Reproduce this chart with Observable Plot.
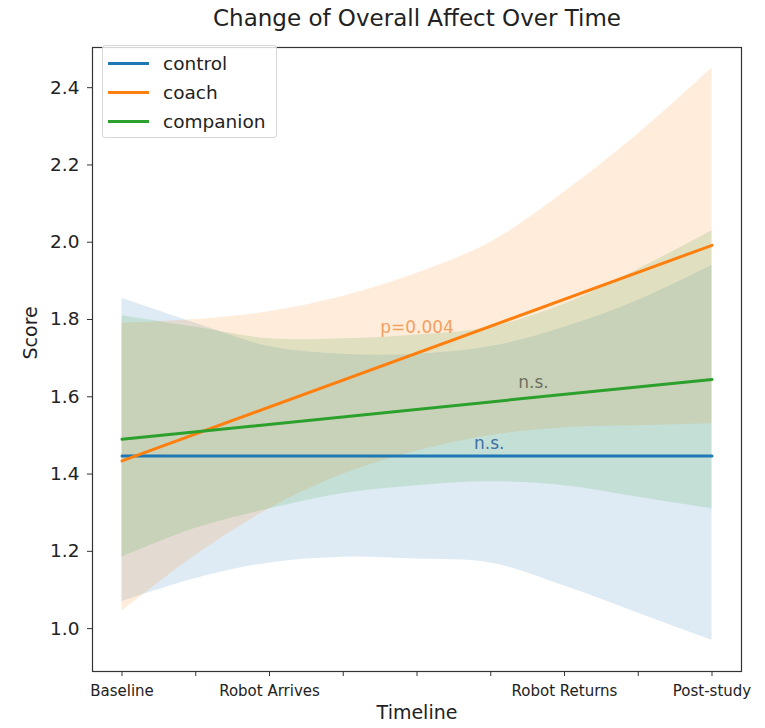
<!DOCTYPE html>
<html>
<head>
<meta charset="utf-8">
<script src="https://cdn.jsdelivr.net/npm/d3@7"></script>
<script src="https://cdn.jsdelivr.net/npm/@observablehq/plot@0.6"></script>
<style>
  html, body { margin: 0; padding: 0; background: #fff; }
  #wrap { position: relative; width: 765px; height: 728px; font-family: "DejaVu Sans", sans-serif; color: #222; }
  #legend { position: absolute; left: 102px; top: 45px; width: 175px; height: 93px;
    background: rgba(255,255,255,0.8); border: 1px solid #d6d6d6; border-radius: 3px; box-sizing: border-box; }
  .row { position: absolute; left: 0; height: 29px; display: flex; align-items: center; font-size: 18.5px; color: #222; }
  .sw { width: 41px; height: 3px; margin-left: 5px; margin-right: 14px; }
</style>
</head>
<body>
<div id="wrap"><div id="chart"></div><div id="legend"></div></div>
<script>
// ---- data ----
const groups = ["control", "coach", "companion"];
const colors = ["#1f77b4", "#ff7f0e", "#2ca02c"];

const timeline = [0, 1, 2, 3, 4, 5, 6, 7, 8];
const xTickLabels = ["Baseline", "", "Robot Arrives", "", "", "", "Robot Returns", "", "Post-study"];
const yTicks = [1.0, 1.2, 1.4, 1.6, 1.8, 2.0, 2.2, 2.4];

// regression lines (straight, from first to last time point)
const lineX = [0, 8];
const controlMean = [1.447, 1.447];
const coachMean = [1.434, 1.992];
const companionMean = [1.490, 1.645];

// confidence bands
const controlUpper = [1.855, 1.79, 1.73, 1.71, 1.71, 1.73, 1.78, 1.85, 1.94];
const controlLower = [1.07, 1.13, 1.17, 1.185, 1.18, 1.17, 1.11, 1.04, 0.97];
const coachUpper = [1.79, 1.80, 1.82, 1.86, 1.92, 2.00, 2.13, 2.28, 2.45];
const coachLower = [1.045, 1.19, 1.31, 1.40, 1.46, 1.50, 1.52, 1.525, 1.53];
const companionUpper = [1.81, 1.78, 1.75, 1.75, 1.76, 1.78, 1.84, 1.93, 2.03];
const companionLower = [1.185, 1.26, 1.31, 1.35, 1.37, 1.38, 1.37, 1.34, 1.31];

// annotations
const annText = ["p=0.004", "n.s.", "n.s."];
const annX = [4.0, 5.58, 4.98];
const annY = [1.78, 1.637, 1.479];
const annColor = ["#f2a060", "#6f6f60", "#3f6fa5"];

// ---- build tables ----
const upper = [controlUpper, coachUpper, companionUpper];
const lower = [controlLower, coachLower, companionLower];
const means = [controlMean, coachMean, companionMean];
const bands = groups.flatMap((g, k) => timeline.map((x, i) => ({group: g, x, lo: lower[k][i], hi: upper[k][i]})));
const lines = groups.flatMap((g, k) => lineX.map((x, i) => ({group: g, x, y: means[k][i]})));
const notes = annText.map((t, i) => ({text: t, x: annX[i], y: annY[i], color: annColor[i]}));

const chart = Plot.plot({
  width: 765,
  height: 728,
  marginLeft: 92,
  marginRight: 24,
  marginTop: 47,
  marginBottom: 57,
  style: {fontFamily: "DejaVu Sans, sans-serif", color: "#222", background: "#fff"},
  x: {domain: [-0.4, 8.4]},
  y: {domain: [0.889, 2.504]},
  color: {domain: groups, range: colors},
  marks: [
    Plot.areaY(bands, {x: "x", y1: "lo", y2: "hi", fill: "group", z: "group", fillOpacity: 0.15, curve: "catmull-rom"}),
    Plot.line(lines, {x: "x", y: "y", stroke: "group", z: "group", strokeWidth: 3}),
    Plot.text(notes, {x: "x", y: "y", text: "text", fill: "color", fontSize: 17}),
    Plot.frame({stroke: "#333", strokeWidth: 1.2}),
    Plot.axisY({ticks: yTicks, tickFormat: d3.format(".1f"), tickSize: 5, tickPadding: 8, fontSize: 18.5, label: null, stroke: "#333"}),
    Plot.axisX({ticks: timeline, tickFormat: d => xTickLabels[timeline.indexOf(d)], tickSize: 5, tickPadding: 9, fontSize: 15, label: null, stroke: "#333"}),
    Plot.text(["Change of Overall Affect Over Time"], {frameAnchor: "top", dy: -38, fontSize: 23, fill: "#222"}),
    Plot.text(["Timeline"], {frameAnchor: "bottom", dy: 47, fontSize: 19, fill: "#222"}),
    Plot.text(["Score"], {frameAnchor: "left", dx: -62, rotate: -90, fontSize: 19, fill: "#222"})
  ]
});
document.getElementById("chart").appendChild(chart);

// legend (HTML overlay)
const legend = document.getElementById("legend");
groups.forEach((g, i) => {
  const row = document.createElement("div");
  row.className = "row";
  row.style.top = (3 + i * 29) + "px";
  const sw = document.createElement("div");
  sw.className = "sw";
  sw.style.background = colors[i];
  const label = document.createElement("span");
  label.textContent = g;
  row.appendChild(sw);
  row.appendChild(label);
  legend.appendChild(row);
});
</script>
</body>
</html>
